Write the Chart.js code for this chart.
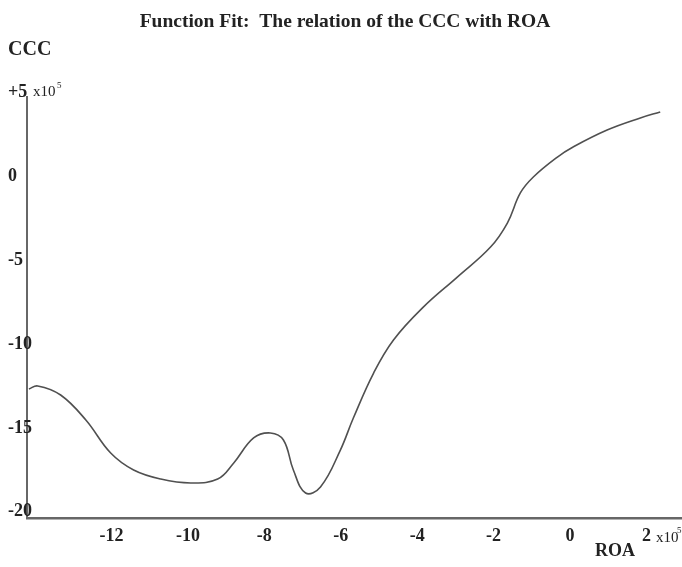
<!DOCTYPE html>
<html>
<head>
<meta charset="utf-8">
<title>Function Fit: CCC vs ROA</title>
<script src="https://cdn.jsdelivr.net/npm/chart.js@4.4.1/dist/chart.umd.min.js"></script>
<style>
  html, body { margin: 0; padding: 0; background: #ffffff; }
  #wrap { width: 682px; height: 567px; position: relative; }
</style>
</head>
<body>
<div id="wrap"><canvas id="chart" width="682" height="567"></canvas></div>
<script>
// Fitted curve: ROA (x10^5) against CCC (x10^5)
const roaValues = [-14.16, -13.93, -13.33, -12.67, -12.02, -11.42, -10.71, -9.93, -9.22, -8.80,
                   -8.28, -7.84, -7.50, -7.24, -6.92, -6.53, -6.01, -5.67, -5.14, -4.62,
                   -3.84, -2.95, -2.08, -1.64, -1.30, -0.96, -0.33, 0.08, 0.97, 1.84, 2.36];
const cccValues = [-12.68, -12.50, -13.04, -14.53, -16.50, -17.51, -18.05, -18.28, -18.05, -17.09,
                   -15.60, -15.30, -15.72, -17.51, -18.88, -18.52, -16.32, -14.41, -11.73, -9.76,
                   -7.80, -6.01, -4.22, -2.79, -1.00, -0.05, 1.14, 1.74, 2.75, 3.47, 3.83];

// Axis ticks
const xTickValues = [-12, -10, -8, -6, -4, -2, 0, 2];
const yTickValues = [-20, -15, -10, -5, 0, 5];

const titleText = 'Function Fit:  The relation of the CCC with ROA';
const yAxisName = 'CCC';
const xAxisName = 'ROA';

const serif = '"Liberation Serif", "Times New Roman", serif';
const textColor = '#222222';
const axisColor = '#676767';

const points = roaValues.map((x, i) => ({ x: x, y: cccValues[i] }));

// Axis names and the x10^5 multipliers
const extraText = {
  id: 'extraText',
  afterDraw(chart) {
    const ctx = chart.ctx;
    const ys = chart.scales.y;
    ctx.save();
    ctx.fillStyle = textColor;
    ctx.textBaseline = 'middle';

    // y-axis name
    ctx.font = 'bold 20px ' + serif;
    ctx.textAlign = 'left';
    ctx.fillText(yAxisName, 8, 50);

    // multiplier beside the top y tick
    const yTop = ys.getPixelForValue(5);
    ctx.font = '15px ' + serif;
    ctx.fillText('x10', 33, yTop);
    ctx.font = '9px ' + serif;
    ctx.fillText('5', 57, yTop - 7);

    // multiplier beside the last x tick
    ctx.font = '15px ' + serif;
    ctx.fillText('x10', 656, 538);
    ctx.font = '9px ' + serif;
    ctx.fillText('5', 677, 531);

    // x-axis name
    ctx.font = 'bold 18px ' + serif;
    ctx.textAlign = 'center';
    ctx.fillText(xAxisName, 615, 551);
    ctx.restore();
  }
};

new Chart(document.getElementById('chart'), {
  type: 'scatter',
  data: {
    datasets: [{
      data: points,
      showLine: true,
      borderColor: '#505050',
      borderWidth: 1.6,
      pointRadius: 0,
      fill: false,
      tension: 0.4
    }]
  },
  options: {
    responsive: false,
    animation: false,
    events: [],
    layout: { padding: { left: 8, right: 0, top: 0, bottom: 0 } },
    plugins: {
      legend: { display: false },
      tooltip: { enabled: false },
      title: {
        display: true,
        text: titleText,
        color: textColor,
        font: { family: serif, size: 19.5, weight: 'bold' },
        padding: { top: 10.3, bottom: 63.3 }
      }
    },
    scales: {
      x: {
        type: 'linear',
        min: -14.21,
        max: 2.93,
        grid: { display: false, drawTicks: false },
        border: { display: true, color: axisColor, width: 2.5 },
        afterBuildTicks(scale) { scale.ticks = xTickValues.map(v => ({ value: v })); },
        afterFit(scale) { scale.height = 49; },
        ticks: {
          color: textColor,
          padding: 8,
          maxRotation: 0,
          autoSkip: false,
          font: { family: serif, size: 18, weight: 'bold' },
          callback: v => String(v)
        }
      },
      y: {
        type: 'linear',
        min: -20.37,
        max: 4.72,
        grid: { display: false, drawTicks: false },
        border: { display: true, color: axisColor, width: 2 },
        afterBuildTicks(scale) { scale.ticks = yTickValues.map(v => ({ value: v })); },
        afterFit(scale) { scale.width = 19; },
        ticks: {
          color: textColor,
          mirror: true,
          padding: -19,
          autoSkip: false,
          font: { family: serif, size: 18, weight: 'bold' },
          callback: v => (v > 0 ? '+' + v : String(v))
        }
      }
    }
  },
  plugins: [extraText]
});
</script>
</body>
</html>
